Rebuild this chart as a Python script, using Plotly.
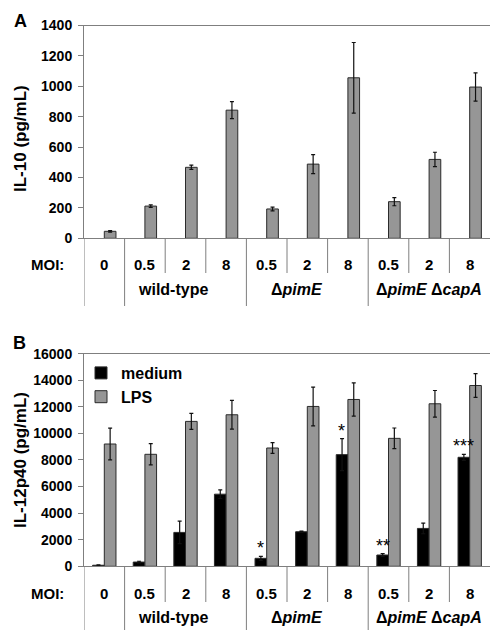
import plotly.graph_objects as go

# ---------------- data ----------------
moi_labels = ["0", "0.5", "2", "8", "0.5", "2", "8", "0.5", "2", "8"]
group_labels = ["wild-type", "Δ<i>pimE</i>", "Δ<i>pimE</i> Δ<i>capA</i>"]
group_centers = [2, 5, 8]           # category index at group centre
series_names = ["medium", "LPS"]

il10_medium = [None] * 10
il10_lps = [46, 212, 467, 843, 193, 488, 1056, 241, 519, 995]
il10_lps_err = [5, 8, 14, 56, 12, 62, 232, 27, 47, 93]

il12_medium = [80, 320, 2550, 5425, 600, 2600, 8400, 850, 2850, 8200]
il12_medium_err = [30, 60, 850, 325, 150, 50, 1200, 100, 400, 225]
il12_lps = [9200, 8425, 10900, 11400, 8900, 12025, 12550, 9625, 12225, 13600]
il12_lps_err = [1200, 800, 600, 1075, 400, 1460, 1250, 780, 1000, 900]
significance = ["", "", "", "", "*", "", "*", "**", "", "***"]

x = list(range(len(moi_labels)))

# ---------------- geometry helpers (pixel -> paper) ----------------
W, H = 490, 630
L = 84
PW = W - L


def px(xpix):
    return (xpix - L) / PW


def py(ypix):
    return 1 - ypix / H


FONT = "Liberation Sans, Arial, sans-serif"
AXIS_GRAY = "#7f7f7f"
BAR_GRAY = "#969696"
EDGE = "#2b2b2b"

fig = go.Figure()

err_style = dict(type="data", thickness=1.2, width=2, color="#111111")

# top panel
fig.add_trace(go.Bar(x=x, y=il10_medium, name=series_names[0], marker_color="black",
                     marker_line=dict(color=EDGE, width=1), showlegend=False,
                     xaxis="x", yaxis="y"))
fig.add_trace(go.Bar(x=x, y=il10_lps, name=series_names[1], marker_color=BAR_GRAY,
                     marker_line=dict(color=EDGE, width=1), showlegend=False,
                     error_y=dict(array=il10_lps_err, **err_style),
                     xaxis="x", yaxis="y"))
# bottom panel
fig.add_trace(go.Bar(x=x, y=il12_medium, name=series_names[0], marker_color="black",
                     marker_line=dict(color=EDGE, width=1),
                     error_y=dict(array=il12_medium_err, **err_style),
                     xaxis="x2", yaxis="y2"))
fig.add_trace(go.Bar(x=x, y=il12_lps, name=series_names[1], marker_color=BAR_GRAY,
                     marker_line=dict(color=EDGE, width=1),
                     error_y=dict(array=il12_lps_err, **err_style),
                     xaxis="x2", yaxis="y2"))

top_dom = [py(238.3), py(25.5)]
bot_dom = [py(566.3), py(353.6)]

xcommon = dict(range=[-0.5, 9.5], showticklabels=False, ticks="", showgrid=False,
               zeroline=False, showline=True, mirror=True, linecolor=AXIS_GRAY,
               linewidth=1, fixedrange=True, automargin=False)
ycommon = dict(showgrid=False, zeroline=False, showline=True, linecolor=AXIS_GRAY,
               linewidth=1, ticks="outside", ticklen=5, tickcolor=AXIS_GRAY,
               tickfont=dict(family=FONT, size=14, color="black", weight="bold"),
               ticklabelstandoff=3, automargin=False, tickformat="d", fixedrange=True)

fig.update_layout(
    width=W, height=H,
    margin=dict(l=L, r=0, t=0, b=0, pad=0),
    paper_bgcolor="white", plot_bgcolor="white",
    barmode="group", bargap=0.425, bargroupgap=0,
    xaxis=dict(domain=[0, 1], anchor="y", **xcommon),
    xaxis2=dict(domain=[0, 1], anchor="y2", **xcommon),
    yaxis=dict(domain=top_dom, anchor="x", range=[0, 1400], dtick=200, **ycommon),
    yaxis2=dict(domain=bot_dom, anchor="x2", range=[0, 16000], dtick=2000, **ycommon),
    showlegend=True,
    legend=dict(x=px(81), y=py(356), xanchor="left", yanchor="top",
                bgcolor="rgba(0,0,0,0)", borderwidth=0,
                font=dict(family=FONT, size=16, color="black", weight="bold"),
                tracegroupgap=0, itemwidth=30),
    font=dict(family=FONT, color="black"),
)

shapes = []
annotations = []

# table under each panel
panels = [
    dict(xref="x", zero=238.3, short_end=273, long_end=306, num_y=264, grp_y=290),
    dict(xref="x2", zero=566.3, short_end=602, long_end=632, num_y=593, grp_y=617),
]
long_bounds = [-0.5, 0.5, 3.5, 6.5]
short_bounds = [1.5, 2.5, 4.5, 5.5, 7.5, 8.5]
group_shift = [-13, -10, 0]
for p in panels:
    for b in long_bounds:
        shapes.append(dict(type="line", xref=p["xref"], yref="paper", x0=b, x1=b,
                           y0=py(p["zero"]), y1=py(p["long_end"]),
                           line=dict(color=AXIS_GRAY, width=1)))
    for b in short_bounds:
        shapes.append(dict(type="line", xref=p["xref"], yref="paper", x0=b, x1=b,
                           y0=py(p["zero"]), y1=py(p["short_end"]),
                           line=dict(color=AXIS_GRAY, width=1)))
    for xi, lab in zip(x, moi_labels):
        annotations.append(dict(x=xi, y=py(p["num_y"]), xref=p["xref"], yref="paper",
                                text=lab, showarrow=False, xanchor="center", yanchor="middle",
                                font=dict(family=FONT, size=15, color="black", weight="bold")))
    for gc, gl, sh in zip(group_centers, group_labels, group_shift):
        annotations.append(dict(x=gc, y=py(p["grp_y"]), xref=p["xref"], yref="paper",
                                text=gl, showarrow=False, xanchor="center", yanchor="middle",
                                xshift=sh,
                                font=dict(family=FONT, size=16, color="black", weight="bold")))
    annotations.append(dict(x=px(66), y=py(p["num_y"]), xref="paper", yref="paper",
                            text="MOI:", showarrow=False, xanchor="right", yanchor="middle",
                            font=dict(family=FONT, size=15, color="black", weight="bold")))

# axis titles and panel letters
annotations.append(dict(x=px(20), y=py(139), xref="paper", yref="paper", text="IL-10 (pg/mL)",
                        textangle=-90, showarrow=False, xanchor="center", yanchor="middle",
                        font=dict(family=FONT, size=17, color="black", weight="bold")))
annotations.append(dict(x=px(20), y=py(460), xref="paper", yref="paper", text="IL-12p40 (pg/mL)",
                        textangle=-90, showarrow=False, xanchor="center", yanchor="middle",
                        font=dict(family=FONT, size=17, color="black", weight="bold")))
annotations.append(dict(x=px(20), y=py(21), xref="paper", yref="paper", text="A",
                        showarrow=False, xanchor="center", yanchor="middle",
                        font=dict(family=FONT, size=18, color="black", weight="bold")))
annotations.append(dict(x=px(19), y=py(343), xref="paper", yref="paper", text="B",
                        showarrow=False, xanchor="center", yanchor="middle",
                        font=dict(family=FONT, size=18, color="black", weight="bold")))

# significance marks above medium bars
for xi, s, v, e in zip(x, significance, il12_medium, il12_medium_err):
    if s:
        annotations.append(dict(x=xi, y=v + e, xref="x2", yref="y2", text=s,
                                showarrow=False, xanchor="center", yanchor="bottom",
                                xshift=-6, yshift=-4,
                                font=dict(family=FONT, size=18, color="black")))

fig.update_layout(shapes=shapes, annotations=annotations)

fig.write_html("out.html", config={"displayModeBar": False, "staticPlot": False},
               post_script="document.body.style.margin='0';document.body.style.overflow='hidden';")
